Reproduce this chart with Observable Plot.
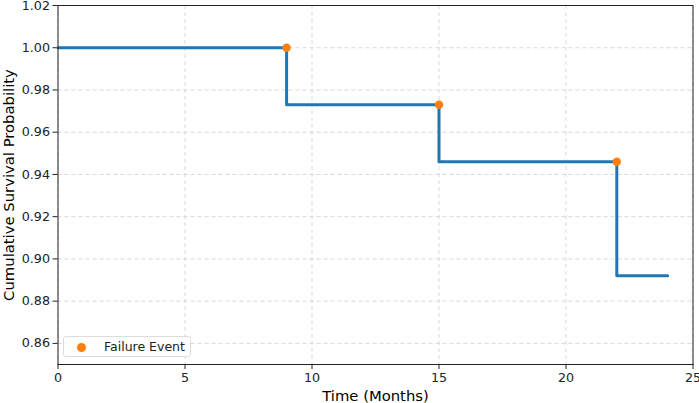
<!DOCTYPE html>
<html>
<head>
<meta charset="utf-8">
<script src="https://cdn.jsdelivr.net/npm/d3@7"></script>
<script src="https://cdn.jsdelivr.net/npm/@observablehq/plot@0.6"></script>
<style>
  html, body { margin: 0; padding: 0; background: #fff; }
  #wrap { position: relative; width: 699px; height: 403px; font-family: "DejaVu Sans", sans-serif; }
  #wrap svg [aria-label="x-axis label"] text,
  #wrap svg [aria-label="y-axis label"] text { font-size: 14.8px; fill: #000; }
  #legend {
    position: absolute; left: 63px; top: 336px; width: 128px; height: 21px;
    border: 1px solid #ddd; border-radius: 3px; background: rgba(255,255,255,0.8);
    font-size: 12.5px; color: #222; box-sizing: border-box;
  }
  #legend .dot { position: absolute; left: 13px; top: 5.5px; width: 9px; height: 9px; border-radius: 50%; background: #ff7f0e; }
  #legend .lab { position: absolute; left: 40px; top: 2px; }
</style>
</head>
<body>
<div id="wrap"></div>
<script>
const stepTimes = [0, 9, 15, 22, 24];
const stepSurvival = [1.000, 0.973, 0.946, 0.892, 0.892];
const eventTimes = [9, 15, 22];
const eventSurvival = [1.000, 0.973, 0.946];
const xTicks = [0, 5, 10, 15, 20, 25];
const yTicks = [0.86, 0.88, 0.90, 0.92, 0.94, 0.96, 0.98, 1.00, 1.02];

const steps = stepTimes.map((t, i) => ({t, s: stepSurvival[i]}));
const events = eventTimes.map((t, i) => ({t, s: eventSurvival[i]}));

const chart = Plot.plot({
  width: 699,
  height: 403,
  marginLeft: 57.5,
  marginRight: 6.5,
  marginTop: 5,
  marginBottom: 39,
  style: { fontFamily: "DejaVu Sans, sans-serif", fontSize: "12.7px", color: "#222", background: "#fff" },
  x: { domain: [0, 25] },
  y: { domain: [0.85, 1.02] },
  marks: [
    Plot.gridX(xTicks, { stroke: "#cfcfcf", strokeOpacity: 1, strokeDasharray: "4,3", strokeWidth: 0.8 }),
    Plot.gridY(yTicks, { stroke: "#cfcfcf", strokeOpacity: 1, strokeDasharray: "4,3", strokeWidth: 0.8 }),
    Plot.axisX(xTicks, { tickSize: 5, tickPadding: 3, stroke: "#222", label: "Time (Months)", labelAnchor: "center", labelArrow: "none", labelOffset: 36, tickFormat: d3.format("d") }),
    Plot.axisY(yTicks, { tickSize: 5, tickPadding: 3, stroke: "#222", label: "Cumulative Survival Probability", labelAnchor: "center", labelArrow: "none", labelOffset: 55, tickFormat: d3.format(".2f") }),
    Plot.line(steps, { x: "t", y: "s", curve: "step-after", stroke: "#1f77b4", strokeWidth: 3 }),
    Plot.dot(events, { x: "t", y: "s", r: 4.2, fill: "#ff7f0e", stroke: "none" }),
    Plot.frame({ stroke: "#222", strokeWidth: 1 })
  ]
});

const wrap = document.getElementById("wrap");
wrap.appendChild(chart);
const legend = document.createElement("div");
legend.id = "legend";
legend.innerHTML = '<span class="dot"></span><span class="lab">Failure Event</span>';
wrap.appendChild(legend);
</script>
</body>
</html>
